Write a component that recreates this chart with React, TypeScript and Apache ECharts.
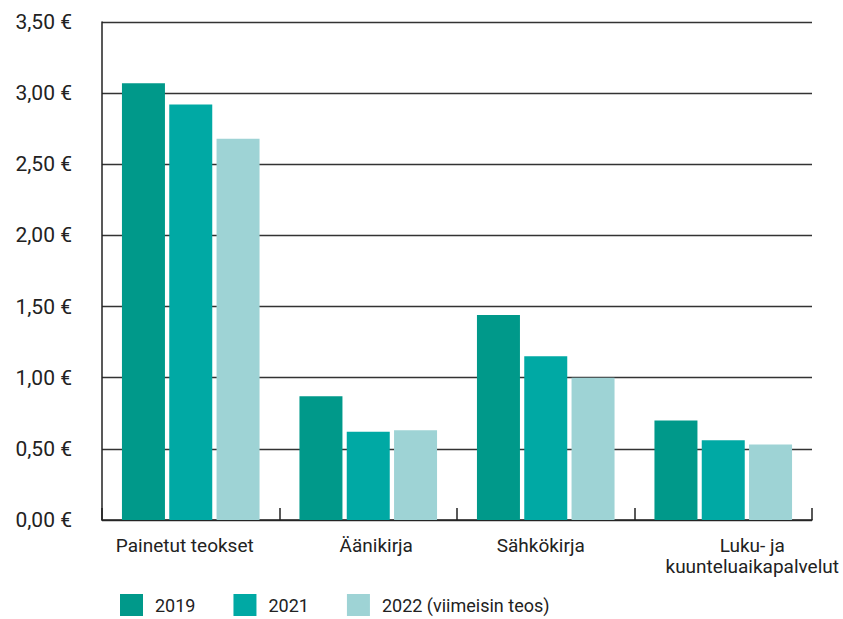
import React, { useEffect, useRef } from "react";
import * as echarts from "echarts";

const categories = ["Painetut teokset", "Äänikirja", "Sähkökirja", "Luku- ja\nkuunteluaikapalvelut"];
const labelShift = [-6, 8, -5, 29];
const seriesNames = ["2019", "2021", "2022 (viimeisin teos)"];
const values2019 = [3.07, 0.87, 1.44, 0.7];
const values2021 = [2.92, 0.62, 1.15, 0.56];
const values2022 = [2.68, 0.63, 1.0, 0.53];
const colors = ["#00998a", "#00a9a4", "#9ed3d5"];

export default function App() {
  const ref = useRef<HTMLDivElement>(null);
  useEffect(() => {
    if (!ref.current) return;
    const chart = echarts.init(ref.current, null, { renderer: "svg" });
    const font = "Roboto";
    const rich: Record<string, any> = {};
    labelShift.forEach((s, i) => {
      rich["c" + i] = {
        fontFamily: font,
        fontSize: 19,
        color: "#222",
        lineHeight: 21,
        align: "center",
        padding: s >= 0 ? [0, 0, 0, 2 * s] : [0, -2 * s, 0, 0],
      };
    });
    const data = [values2019, values2021, values2022];
    chart.setOption({
      animation: false,
      grid: { left: 102, right: 31, top: 22, bottom: 99, containLabel: false },
      legend: {
        left: 120,
        top: 594,
        padding: 0,
        icon: "rect",
        itemWidth: 23,
        itemHeight: 22,
        itemGap: 38,
        textStyle: { fontFamily: font, fontSize: 18, lineHeight: 20, color: "#222", padding: [0, 0, 0, 7] },
        data: seriesNames,
      },
      xAxis: {
        type: "category",
        data: categories,
        axisLine: { show: true, lineStyle: { color: "#222", width: 1.5 } },
        axisTick: { show: true, inside: true, length: 12, lineStyle: { color: "#222", width: 1.5 } },
        axisLabel: {
          margin: 15,
          interval: 0,
          formatter: (v: string) => {
            const i = categories.indexOf(v);
            return v
              .split("\n")
              .map((line) => `{c${i}|${line}}`)
              .join("\n");
          },
          rich,
        },
      },
      yAxis: {
        type: "value",
        min: 0,
        max: 3.5,
        interval: 0.5,
        axisLine: { show: true, lineStyle: { color: "#222", width: 1.5 } },
        axisTick: { show: false },
        splitLine: { show: true, lineStyle: { color: "#333", width: 1.3 } },
        axisLabel: {
          margin: 30,
          fontFamily: font,
          fontSize: 21,
          color: "#222",
          formatter: (v: number) => v.toFixed(2).replace(".", ",") + " €",
        },
      },
      series: seriesNames.map((name, i) => ({
        name,
        type: "bar",
        data: data[i],
        barWidth: 43,
        barGap: "10%",
        itemStyle: { color: colors[i] },
      })),
    });
    return () => chart.dispose();
  }, []);
  return <div ref={ref} style={{ position: "absolute", left: 0, top: 0, width: 843, height: 619 }} />;
}
